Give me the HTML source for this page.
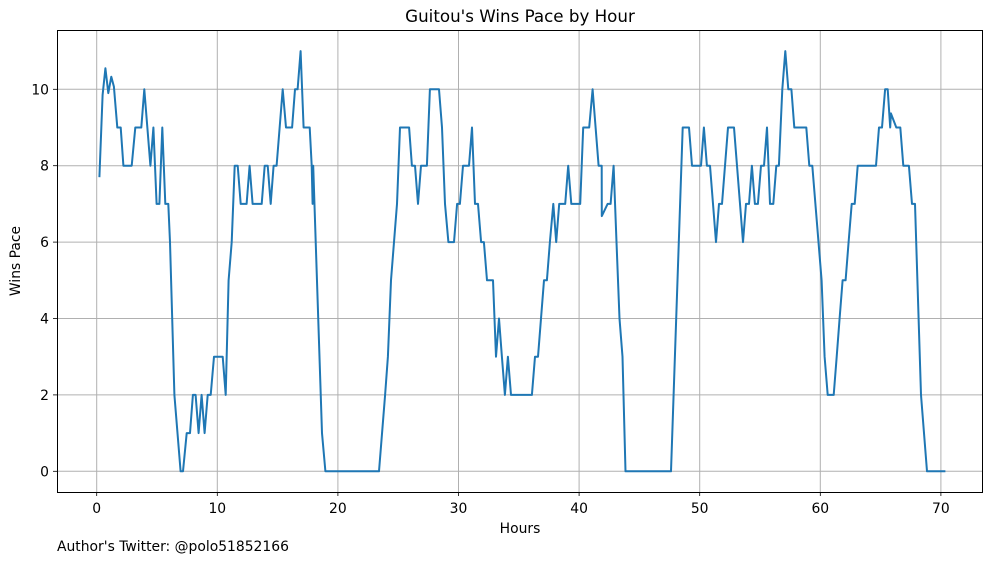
<!DOCTYPE html>
<html><head><meta charset="utf-8"><style>
body{margin:0;background:#fff;}
svg text{font-family:"DejaVu Sans","Liberation Sans",sans-serif;fill:#000;}
</style></head><body>
<svg id="chart" width="997" height="562" xmlns="http://www.w3.org/2000/svg">
<text x="520" y="22" font-size="16.7" text-anchor="middle">Guitou's Wins Pace by Hour</text>
<g id="grid"></g>
<g id="axes"></g>
<path id="line" fill="none" stroke="#1f77b4" stroke-width="2" stroke-linejoin="round"/>
<rect x="57.5" y="30.5" width="925" height="462" fill="none" stroke="#000" stroke-width="1"/>
<text x="520" y="533" font-size="13.9" text-anchor="middle">Hours</text>
<text x="20" y="261" font-size="13.9" text-anchor="middle" transform="rotate(-90 20 261)">Wins Pace</text>
<text x="57" y="551" font-size="13.9">Author's Twitter: @polo51852166</text>
</svg>
<script>
const hours=[0.22,0.49,0.72,0.96,1.21,1.43,1.71,1.99,2.21,2.9,3.2,3.7,3.95,4.45,4.7,4.97,5.2,5.44,5.69,5.94,6.08,6.44,6.96,7.16,7.46,7.74,7.98,8.2,8.45,8.7,8.95,9.2,9.45,9.73,10.45,10.7,10.94,11.19,11.44,11.69,11.94,12.43,12.68,12.93,13.68,13.93,14.18,14.43,14.67,14.92,15.42,15.7,16.2,16.44,16.66,16.91,17.16,17.66,17.83,17.9,17.95,18.68,18.96,
23.41,23.91,24.15,24.4,24.65,24.9,25.15,25.9,26.14,26.39,26.64,26.89,27.38,27.63,28.38,28.63,28.88,29.16,29.63,29.88,30.12,30.37,30.87,31.12,31.37,31.62,31.87,32.11,32.36,32.86,33.11,33.36,33.6,33.85,34.1,34.35,36.09,36.34,36.59,36.84,37.09,37.33,37.58,37.86,38.1,38.35,38.85,39.1,39.35,40.09,40.34,40.84,41.12,41.62,41.87,41.88,42.36,42.61,42.86,43.1,43.35,43.6,43.85,
47.62,48.59,49.11,49.36,50.11,50.35,50.6,50.85,51.35,51.6,51.85,52.35,52.84,53.59,53.84,54.09,54.33,54.58,54.83,55.08,55.33,55.58,55.83,56.1,56.35,56.57,56.85,57.1,57.35,57.6,57.84,58.84,59.09,59.34,60.11,60.36,60.61,61.11,61.36,61.6,61.85,62.1,62.35,62.6,62.85,63.1,64.62,64.87,65.12,65.37,65.59,65.8,65.85,66.3,66.63,66.88,67.35,67.6,67.85,68.35,68.85,70.37];
const pace=[7.7,9.85,10.55,9.9,10.33,10.07,9,9,8,8,9,9,10,8,9,7,7,9,7,7,6,2,0,0,1,1,2,2,1,2,1,2,2,3,3,2,5,6,8,8,7,7,8,7,7,8,8,7,8,8,10,9,9,10,10,11,9,9,8,7,8,1,0,
0,2,3,5,6,7,9,9,8,8,7,8,8,10,10,9,7,6,6,7,7,8,8,9,7,7,6,6,5,5,3,4,3,2,3,2,2,3,3,4,5,5,6,7,6,7,7,8,7,7,9,9,10,8,8,6.68,7,7,8,6,4,3,0,
0,9,9,8,8,9,8,8,6,7,7,9,9,6,7,7,8,7,7,8,8,9,7,7,8,8,10,11,10,10,9,9,8,8,5,3,2,2,3,4,5,5,6,7,7,8,8,9,9,10,10,9,9.37,9,9,8,8,7,7,2,0,0];
const xTicks=[0,10,20,30,40,50,60,70];
const yTicks=[0,2,4,6,8,10];
const X=h=>96.7+h*12.06, Y=v=>471.3-v*38.2;
const NS="http://www.w3.org/2000/svg";
const grid=document.getElementById('grid'), axes=document.getElementById('axes');
function mk(tag,attrs,parent){const e=document.createElementNS(NS,tag);for(const k in attrs)e.setAttribute(k,attrs[k]);parent.appendChild(e);return e;}
xTicks.forEach(t=>{
  const x=X(t);
  const g=mk('line',{x1:x,x2:x,y1:30,y2:492,stroke:'#b0b0b0','stroke-width':1},grid);
  
  
  const tk=mk('line',{x1:x,x2:x,y1:492,y2:496,stroke:'#000','stroke-width':0.8},axes);
  
  
  const lb=mk('text',{x:x,y:513,'font-size':13.9,'text-anchor':'middle'},axes);
  lb.textContent=t;
  
  
});
yTicks.forEach(t=>{
  const y=Y(t);
  const g=mk('line',{x1:57,x2:982,y1:y,y2:y,stroke:'#b0b0b0','stroke-width':1},grid);
  
  
  const tk=mk('line',{x1:53,x2:57,y1:y,y2:y,stroke:'#000','stroke-width':0.8},axes);
  
  
  const lb=mk('text',{x:49,y:y+5,'font-size':13.9,'text-anchor':'end'},axes);
  lb.textContent=t;
  
  
});
document.getElementById('line').setAttribute('d',hours.map((h,i)=>(i?'L':'M')+X(h).toFixed(1)+','+Y(pace[i]).toFixed(1)).join(''));
</script>
</body></html>
